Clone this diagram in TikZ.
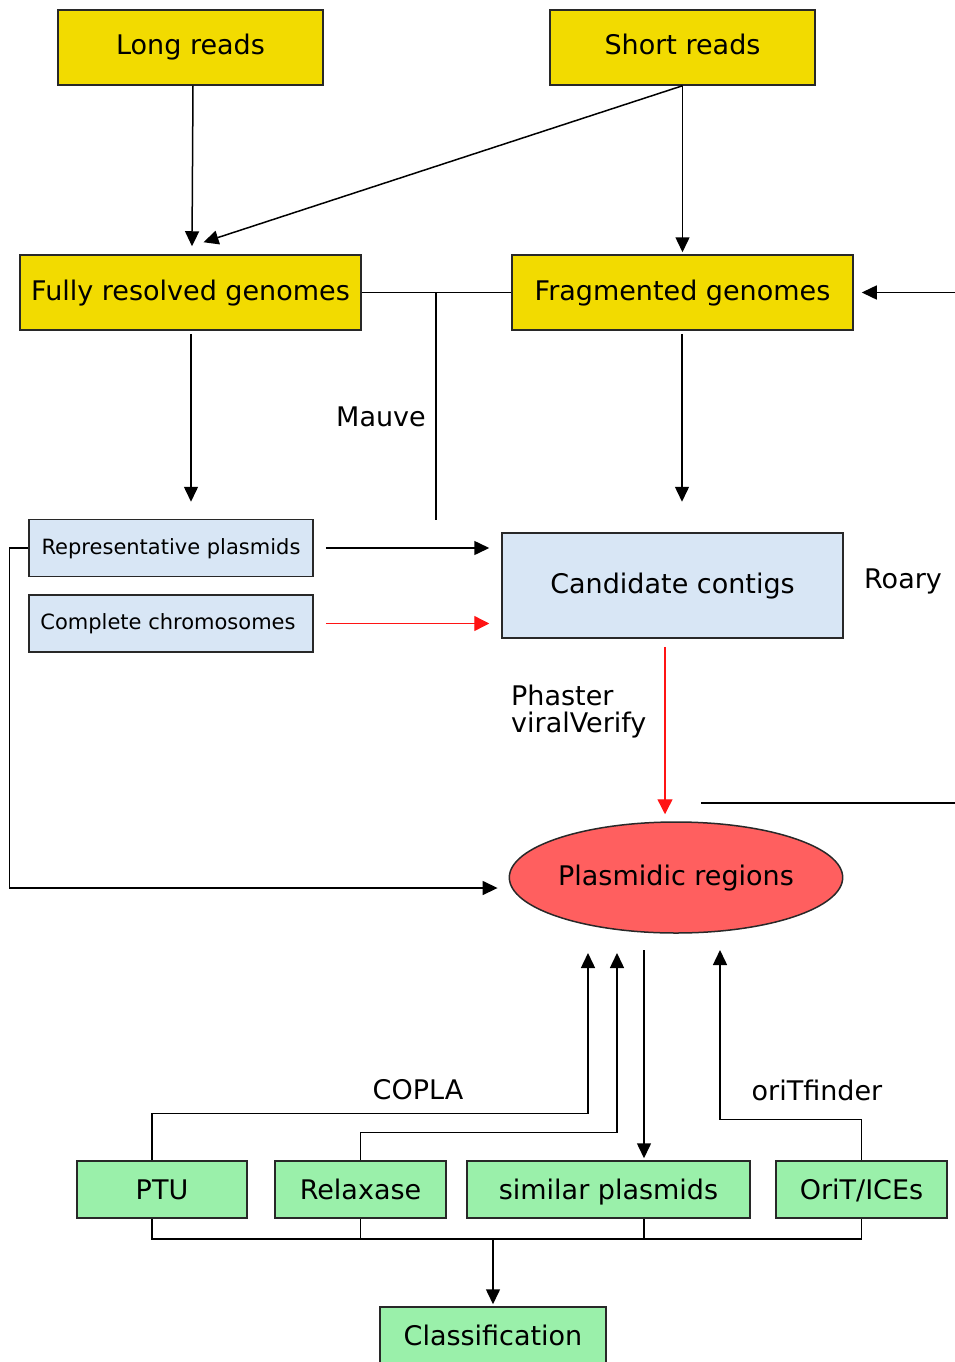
\documentclass[tikz,border=0pt]{standalone}
\usepackage{fontspec}
\setmainfont{DejaVu Sans}
\usetikzlibrary{arrows.meta,calc,shapes.geometric}
\definecolor{ybox}{RGB}{242,219,0}
\definecolor{bbox}{RGB}{216,230,245}
\definecolor{rfill}{RGB}{255,95,95}
\definecolor{gbox}{RGB}{154,240,170}
\definecolor{edge}{RGB}{40,40,40}
\definecolor{redline}{RGB}{255,20,20}
\tikzset{
  big/.style={font=\fontsize{27}{30}\selectfont, text height=20pt, text depth=5pt},
  small/.style={font=\fontsize{21}{25}\selectfont, text height=16pt, text depth=4pt},
  ybx/.style={draw=edge, line width=1.5pt, fill=ybox, inner sep=0pt, minimum height=75pt, big},
  bbx/.style={draw=edge, line width=1.5pt, fill=bbox, inner sep=0pt, minimum width=284pt, minimum height=57pt, small},
  gbx/.style={draw=edge, line width=1.5pt, fill=gbox, inner sep=0pt, minimum height=57pt, big, text height=24pt},
  lbl/.style={font=\fontsize{27}{30}\selectfont, inner sep=0pt},
  ln/.style={line width=1.5pt, black},
  arr/.style={ln, -{Triangle[length=15pt,width=14pt]}},
  redarr/.style={line width=1.4pt, redline, -{Triangle[length=15pt,width=15pt]}},
}
\begin{document}
\begin{tikzpicture}[x=1pt,y=-1pt]
\useasboundingbox (0,0) rectangle (955,1362);

% top boxes
\node[ybx, minimum width=265pt] (lr) at (190.5,47.5) {Long reads};
\node[ybx, minimum width=265pt] (sr) at (682.5,47.5) {Short reads};
\node[ybx, minimum width=341pt] (fr) at (190.5,292.5) {Fully resolved genomes};
\node[ybx, minimum width=341pt] (fg) at (682.5,292.5) {Fragmented genomes};

% middle boxes
\node[bbx] (rp) at (171,548) {Representative plasmids};
\node[bbx] (cch) at (171,623.5) {\hspace*{-6pt}Complete chromosomes};
\node[draw=edge, line width=1.5pt, fill=bbox, inner sep=0pt, minimum width=341pt, minimum height=105pt, big] (cc) at (672.5,585.5) {Candidate contigs};
\node[ellipse, draw=edge, line width=1.5pt, fill=rfill, inner sep=0pt, minimum width=330pt, minimum height=111pt, big] (pr) at (676,877.5) {Plasmidic regions};

% bottom boxes
\node[gbx, minimum width=170pt] (ptu) at (162,1189.5) {PTU};
\node[gbx, minimum width=171pt] (rel) at (360.5,1189.5) {Relaxase};
\node[gbx, minimum width=283pt] (sp) at (608.5,1189.5) {similar plasmids};
\node[gbx, minimum width=171pt] (ori) at (861.5,1189.5) {OriT/ICEs};
\node[gbx, minimum width=226pt] (cls) at (493,1335.5) {Classification};

% labels
\node[lbl] (mauve) at (381,417) {Mauve};
\node[lbl] (roary) at (903,581) {Roary};
\node[lbl, align=left, anchor=west] (phv) at (511,712) {Phaster\\[-3pt]viralVerify};
\node[lbl] (copla) at (418,1090) {COPLA};
\node[lbl] (orif) at (817,1090) {oriTfinder};

% coordinates
\coordinate (mvtop) at (436,292.5);
\coordinate (mvbot) at (436,520);
\coordinate (rin) at (955,292.5);
\coordinate (rl1) at (701,803);
\coordinate (rl2) at (955,803);
\coordinate (c1) at (588,953);
\coordinate (c2) at (617,953);
\coordinate (c3) at (644,950);
\coordinate (c4) at (720,950);
\coordinate (bus) at (493,1238);

% top connectors
\draw[arr] ($(lr.south)+(2.5,0)$) -- ($(fr.north)+(1.5,-8)$);
\draw[arr] (sr.south) -- ($(fr.north)+(13,-12)$);
\draw[arr, shorten >=2pt] (sr.south) -- (fg.north);
\draw[ln] (fr.east) -- (fg.west);
\draw[ln] (mvtop) -- (mvbot);
\draw[arr, shorten >=8pt] (rin) -- (fg.east);
\draw[arr] ($(fr.south)+(0.5,3)$) -- ++(0,168);
\draw[arr] ($(fg.south)+(-0.5,3)$) -- ++(0,168);

% middle connectors
\draw[arr] ($(rp.east)+(12,0)$) -- ($(rp.east -| cc.west)+(-12,0)$);
\draw[redarr] ($(cch.east)+(12,0)$) -- ($(cch.east -| cc.west)+(-12,0)$);
\draw[redarr] ($(cc.south)+(-7.5,8)$) -- ($(pr.north)+(-11,-7)$);
\draw[ln] (rl1) -- (rl2);
\draw[arr] (rp.west) -- ++(-19,0) |- ($(pr.west)+(-11,10.5)$);

% bottom connectors
\draw[arr] ($(ptu.north)+(-10,0)$) -- ++(0,-47) -| (c1);
\draw[arr] (rel.north) -- ++(0,-28) -| (c2);
\draw[arr, shorten >=2pt] (c3) -- (c3 |- sp.north);
\draw[arr] (ori.north) -- ++(0,-41) -| (c4);

\draw[ln] ($(ptu.south)+(-10,0)$) -- ++(0,20) -| (ori.south);
\draw[ln] (rel.south) -- ++(0,20);
\draw[ln] (c3 |- sp.south) -- ++(0,20);
\draw[arr, shorten >=2pt] (bus) -- (cls.north);
\end{tikzpicture}
\end{document}
